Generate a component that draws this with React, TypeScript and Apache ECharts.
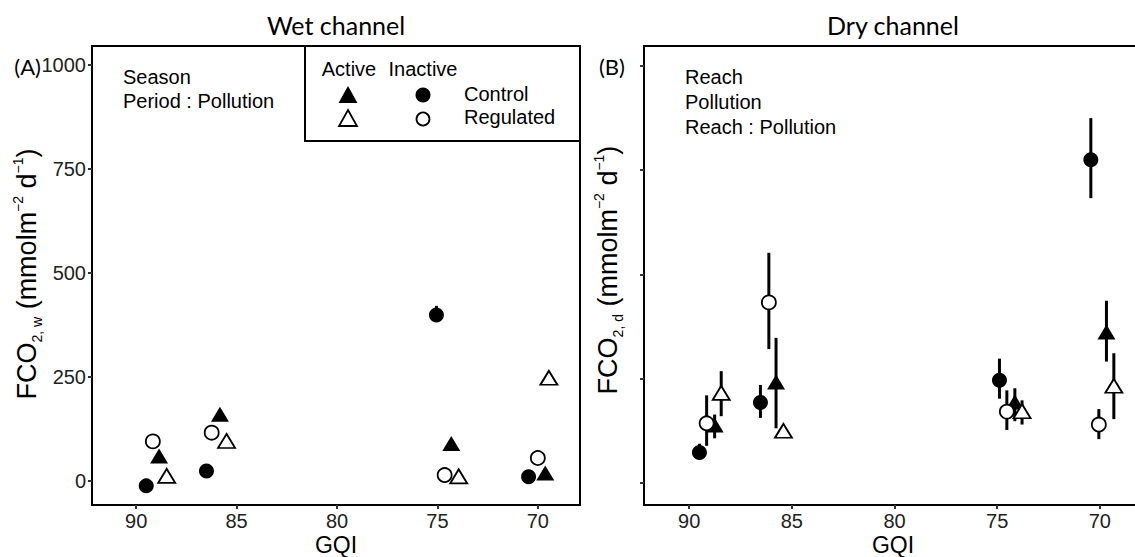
import React, { useEffect, useRef } from "react";
import * as echarts from "echarts";

// Axis ticks
const xTicks = [70, 75, 80, 85, 90];
const yTicks = [0, 250, 500, 750, 1000];

// Each row: [GQI, mean, lower, upper]
// Wet channel (A)
const wetInactiveControl = [[89.5, -12, -18, -6], [86.5, 24, 19, 29], [75.05, 399, 382, 421], [70.46, 10, 5, 15]];
const wetInactiveRegulated = [[89.17, 95, 90, 100], [86.24, 116, 111, 121], [74.64, 14, 9, 19], [70.0, 55, 50, 60]];
const wetActiveControl = [[88.86, 60, 55, 65], [85.83, 160, 155, 165], [74.31, 90, 85, 95], [69.63, 19, 14, 24]];
const wetActiveRegulated = [[88.48, 12, 7, 17], [85.5, 96, 91, 101], [73.94, 11, 6, 16], [69.45, 248, 243, 253]];

// Dry channel (B)
const dryInactiveControl = [[89.5, 73, 56, 94], [86.53, 193, 156, 235], [74.89, 246, 202, 298], [70.44, 775, 683, 875]];
const dryInactiveRegulated = [[89.15, 143, 89, 210], [86.12, 433, 321, 552], [74.53, 171, 127, 222], [70.05, 140, 105, 177]];
const dryActiveControl = [[88.76, 139, 107, 164], [85.77, 242, 131, 348], [74.14, 194, 148, 227], [69.68, 362, 291, 437]];
const dryActiveRegulated = [[88.44, 216, 160, 268], [85.41, 125, 108, 140], [73.79, 172, 140, 198], [69.32, 233, 153, 311]];

const wetNotes = ["Season", "Period : Pollution"];
const dryNotes = ["Reach", "Pollution", "Reach : Pollution"];

const SANS = "Liberation Sans";
const HUMAN = "Lato";

const styles: Record<string, any> = {
  ic: { symbol: "circle", symbolSize: 15, itemStyle: { color: "#000", opacity: 1 } },
  ir: { symbol: "circle", symbolSize: 14, itemStyle: { color: "#fff", borderColor: "#000", borderWidth: 1.8, opacity: 1 } },
  ac: { symbol: "triangle", symbolSize: [18, 15], itemStyle: { color: "#000", opacity: 1 } },
  ar: { symbol: "triangle", symbolSize: [17, 14], itemStyle: { color: "#fff", borderColor: "#000", borderWidth: 1.8, opacity: 1 } },
};

function errorSeries(name: string, data: number[][], idx: number) {
  return {
    type: "custom",
    name: name + " err",
    xAxisIndex: idx,
    yAxisIndex: idx,
    z: 1,
    silent: true,
    data: data,
    encode: { x: 0, y: [2, 3] },
    renderItem: (params: any, api: any) => {
      const p1 = api.coord([api.value(0), api.value(2)]);
      const p2 = api.coord([api.value(0), api.value(3)]);
      return {
        type: "line",
        shape: { x1: p1[0], y1: p1[1], x2: p2[0], y2: p2[1] },
        style: { stroke: "#000", lineWidth: 3 },
      };
    },
  };
}

function pointSeries(name: string, data: number[][], idx: number, key: string, z: number) {
  return {
    type: "scatter",
    name,
    xAxisIndex: idx,
    yAxisIndex: idx,
    z,
    silent: true,
    data: data.map((d) => [d[0], d[1]]),
    ...styles[key],
  };
}

function yName(x: number, y: number, sub: string) {
  return {
    type: "text",
    x,
    y,
    rotation: Math.PI / 2,
    style: {
      text: `{a|FCO}{s|${sub}}{a| (mmolm}{p|−2}{a| d}{p|−1}{a|)}`,
      align: "center",
      verticalAlign: "middle",
      rich: {
        a: { fontSize: 27, fontFamily: SANS, lineHeight: 33, fill: "#000" },
        s: { fontSize: 14, fontFamily: SANS, lineHeight: 15, verticalAlign: "bottom", fill: "#000" },
        p: { fontSize: 14, fontFamily: SANS, lineHeight: 15, verticalAlign: "top", fill: "#000" },
      },
    },
  };
}

export default function App() {
  const ref = useRef<HTMLDivElement>(null);
  useEffect(() => {
    if (!ref.current) return;
    const chart = echarts.init(ref.current, null, { renderer: "svg" });
    const axisCommonX = (i: number) => ({
      type: "value",
      gridIndex: i,
      inverse: true,
      min: 67.9,
      max: 92.2,
      axisLine: { show: false, onZero: false },
      splitLine: { show: false },
      axisTick: { show: true, length: 4, lineStyle: { color: "#333", width: 2 }, customValues: xTicks },
      axisLabel: { customValues: xTicks, fontSize: 20, color: "#222", margin: 6, fontFamily: SANS, formatter: (v: number) => String(v) },
    });
    const yAxisA = {
      type: "value",
      gridIndex: 0,
      min: -58,
      max: 1046,
      axisLine: { show: false, onZero: false },
      splitLine: { show: false },
      axisTick: { show: true, length: 4, lineStyle: { color: "#333", width: 2 }, customValues: yTicks },
      axisLabel: { customValues: yTicks, fontSize: 20, color: "#222", margin: 6, fontFamily: SANS, formatter: (v: number) => String(v) },
    };
    const yAxisB = {
      type: "value",
      gridIndex: 1,
      min: -53,
      max: 1048,
      axisLine: { show: false, onZero: false },
      splitLine: { show: false },
      axisTick: { show: true, length: 4, lineStyle: { color: "#333", width: 2 }, customValues: yTicks },
      axisLabel: { show: false, customValues: yTicks },
    };

    const noteText = (x: number, y: number, t: string) => ({
      type: "text",
      x,
      y,
      style: { text: t, fontSize: 20, fontFamily: SANS, fill: "#000", align: "left", verticalAlign: "middle" },
    });

    const legend = {
      type: "group",
      children: [
        { type: "rect", shape: { x: 305, y: 46, width: 275, height: 95 }, style: { fill: "none", stroke: "#000", lineWidth: 2 } },
        { type: "text", x: 349, y: 69, style: { text: "Active", fontSize: 20, fontFamily: SANS, fill: "#000", align: "center", verticalAlign: "middle" } },
        { type: "text", x: 423, y: 69, style: { text: "Inactive", fontSize: 20, fontFamily: SANS, fill: "#000", align: "center", verticalAlign: "middle" } },
        { type: "polygon", shape: { points: [[348, 86], [357.5, 103], [338.5, 103]] }, style: { fill: "#000" } },
        { type: "circle", shape: { cx: 423, cy: 95, r: 7.5 }, style: { fill: "#000" } },
        { type: "text", x: 464, y: 94, style: { text: "Control", fontSize: 20, fontFamily: SANS, fill: "#000", align: "left", verticalAlign: "middle" } },
        { type: "polygon", shape: { points: [[348, 110], [357, 126], [339, 126]] }, style: { fill: "#fff", stroke: "#000", lineWidth: 1.8 } },
        { type: "circle", shape: { cx: 423, cy: 119, r: 6.5 }, style: { fill: "#fff", stroke: "#000", lineWidth: 1.8 } },
        { type: "text", x: 464, y: 117, style: { text: "Regulated", fontSize: 20, fontFamily: SANS, fill: "#000", align: "left", verticalAlign: "middle" } },
      ],
    };

    const option: any = {
      animation: false,
      textStyle: { fontFamily: SANS },
      grid: [
        { left: 92, top: 46, width: 488, height: 459, show: true, borderColor: "#000", borderWidth: 2, backgroundColor: "transparent", outerBoundsMode: "none" },
        { left: 644, top: 46, width: 499, height: 459, show: true, borderColor: "#000", borderWidth: 2, backgroundColor: "transparent", outerBoundsMode: "none" },
      ],
      xAxis: [axisCommonX(0), axisCommonX(1)],
      yAxis: [yAxisA, yAxisB],
      series: [
        errorSeries("wIC", wetInactiveControl, 0),
        errorSeries("wIR", wetInactiveRegulated, 0),
        errorSeries("wAC", wetActiveControl, 0),
        errorSeries("wAR", wetActiveRegulated, 0),
        errorSeries("dIC", dryInactiveControl, 1),
        errorSeries("dIR", dryInactiveRegulated, 1),
        errorSeries("dAC", dryActiveControl, 1),
        errorSeries("dAR", dryActiveRegulated, 1),
        pointSeries("wIC", wetInactiveControl, 0, "ic", 2),
        pointSeries("wAC", wetActiveControl, 0, "ac", 3),
        pointSeries("wAR", wetActiveRegulated, 0, "ar", 4),
        pointSeries("wIR", wetInactiveRegulated, 0, "ir", 5),
        pointSeries("dIC", dryInactiveControl, 1, "ic", 2),
        pointSeries("dAC", dryActiveControl, 1, "ac", 3),
        pointSeries("dAR", dryActiveRegulated, 1, "ar", 4),
        pointSeries("dIR", dryInactiveRegulated, 1, "ir", 5),
      ],
      graphic: [
        { type: "text", x: 336, y: 25, style: { text: "Wet channel", fontSize: 25, fontFamily: HUMAN, fill: "#000", align: "center", verticalAlign: "middle" } },
        { type: "text", x: 893, y: 25, style: { text: "Dry channel", fontSize: 25, fontFamily: HUMAN, fill: "#000", align: "center", verticalAlign: "middle" } },
        { type: "text", x: 41, y: 66, style: { text: "(A)", fontSize: 22, fontFamily: HUMAN, fill: "#000", align: "right", verticalAlign: "middle" } },
        { type: "text", x: 599, y: 66, style: { text: "(B)", fontSize: 22, fontFamily: HUMAN, fill: "#000", align: "left", verticalAlign: "middle" } },
        noteText(123, 77, wetNotes[0]),
        noteText(123, 101, wetNotes[1]),
        noteText(685, 77, dryNotes[0]),
        noteText(685, 102, dryNotes[1]),
        noteText(685, 127, dryNotes[2]),
        legend,
        yName(27, 274, "2, w"),
        yName(608, 270, "2, d"),
        { type: "text", x: 336, y: 545, style: { text: "GQI", fontSize: 23, fontFamily: SANS, fill: "#000", align: "center", verticalAlign: "middle" } },
        { type: "text", x: 893, y: 545, style: { text: "GQI", fontSize: 23, fontFamily: SANS, fill: "#000", align: "center", verticalAlign: "middle" } },
      ],
    };
    chart.setOption(option);
    return () => chart.dispose();
  }, []);
  return <div ref={ref} style={{ position: "absolute", left: 0, top: 0, width: 1135, height: 557 }} />;
}
